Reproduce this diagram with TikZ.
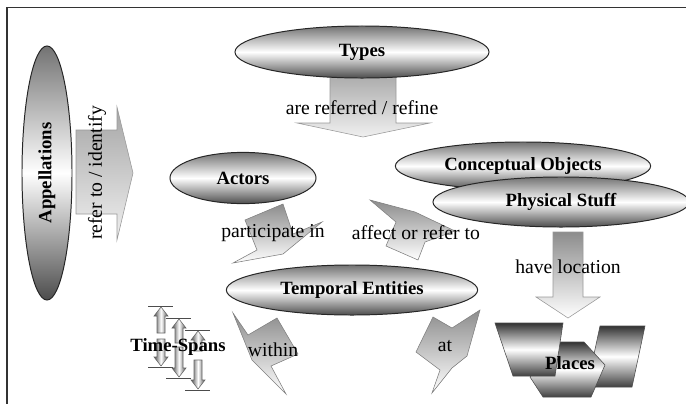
\documentclass[tikz,border=0pt]{standalone}
\usepackage{fontspec}
\setmainfont{Liberation Serif}
\usetikzlibrary{shapes.geometric}

\begin{document}
\begin{tikzpicture}[x=0.025cm, y=-0.025cm,
    ell/.style={ellipse, draw=black!85, line width=0.7pt, inner sep=0pt, top color=black!55, bottom color=black!70, middle color=white, font=\fontsize{13.3}{15}\selectfont\bfseries},
    blk/.style={draw=black!40, top color=black!35, bottom color=black!6},
    bolt/.style={draw=black!50, top color=black!45, bottom color=white},
    plc/.style={draw=black!70, top color=black!80, bottom color=black!75, middle color=white},
    ts/.style={draw=black!60, left color=black!70, right color=black!70, middle color=white},
    lab/.style={font=\fontsize{14}{16}\selectfont, inner sep=1pt}]
    \useasboundingbox (0,0) rectangle (686,403);
    \draw [line width=1.4pt, black!80](7,420)--(7,7.5)--(700,7.5);%枠

    \shade[blk](330,70)--(396,70)--(396,123)--(430,123)--(363,137)--(297,123)--(330,123)--cycle;%下向き矢印
    \shade[blk](76,130)--(117,130)--(117,107)--(133,173)--(117,240)--(117,214)--(76,214)--cycle;%右向き矢印
    \shade[blk, top color=black!45, bottom color=white](553,232)--(583,232)--(583,297)--(600,297)--(568,318)--(536,297)--(553,297)--cycle;

    \node[ell, minimum width=6.35cm, minimum height=1.3cm](types)at(362,52){Types};
    \node[ell, minimum width=1.25cm, minimum height=6.35cm](appell)at(47,173){\rotatebox{90}{Appellations}};
    \node[ell, minimum width=3.65cm, minimum height=1.28cm](actors)at(243,178){Actors};
    \node[ell, minimum width=6.38cm, minimum height=1.2cm](concept)at(523,166){Conceptual Objects};
    \node[ell, minimum width=6.4cm, minimum height=1.25cm](physical)at(561,202){Physical Stuff};
    \node[ell, minimum width=6.28cm, minimum height=1.25cm](temporal)at(352,290){Temporal Entities};

    \shade[bolt](233,263)--(257,250)--(245,220)--(283,204)--(293,234)--(322,222)--(283,254)--cycle;%稲妻
    \shade[bolt](370,200)--(415,212)--(455,231)--(425,242)--(418,260)--(386,246)--(396,222)--cycle;
    \shade[bolt](286,394)--(271,366)--(298,354)--(277,318)--(248,335)--(233,313)--(252,360)--cycle;
    \shade[bolt](433,317)--(452,328)--(480,310)--(467,356)--(452,368)--(432,393)--(440,370)--(416,352)--cycle;

    \shade[plc](600,326)--(645,326)--(632,387)--(587,387)--cycle;%場所
    \shade[plc](556,342)--(584,342)--(605,365)--(591,397)--(543,397)--(530,377)--cycle;
    \shade[plc](495,323)--(563,323)--(555,376)--(513,376)--cycle;

    \foreach\x/\t/\u/\d/\b in{161/306/333/339/367, 179/318/343/347/378, 198/330/351/360/390}{
      \draw[black!70](\x-13,\t)--(\x+12,\t);
      \shade[ts](\x,\t+1)--(\x+7,\t+10)--(\x+4,\t+10)--(\x+4,\u)--(\x-4,\u)--(\x-4,\t+10)--(\x-7,\t+10)--cycle;
      \shade[ts](\x,\b-1)--(\x+7,\b-10)--(\x+4,\b-10)--(\x+4,\d)--(\x-4,\d)--(\x-4,\b-10)--(\x-7,\b-10)--cycle;
      \draw[black!70](\x-13,\b)--(\x+12,\b);
    }

    \node[lab](refine)at(362,108){are referred / refine};
    \node[lab](refer)at(97,173){\rotatebox{90}{refer to / identify}};
    \node[lab](partic)at(273,233){participate in};
    \node[lab](affect)at(416,233){affect or refer to};
    \node[lab](within)at(273,350){within};
    \node[lab](at)at(445,346){at};
    \node[lab](haveloc)at(568,267){have location};
    \node[lab, font=\fontsize{13.3}{15}\selectfont\bfseries](places)at(570,363){Places};
    \node[lab, font=\fontsize{13.3}{15}\selectfont\bfseries](timespans)at(178,347){Time-Spans};
\end{tikzpicture}
\end{document}
